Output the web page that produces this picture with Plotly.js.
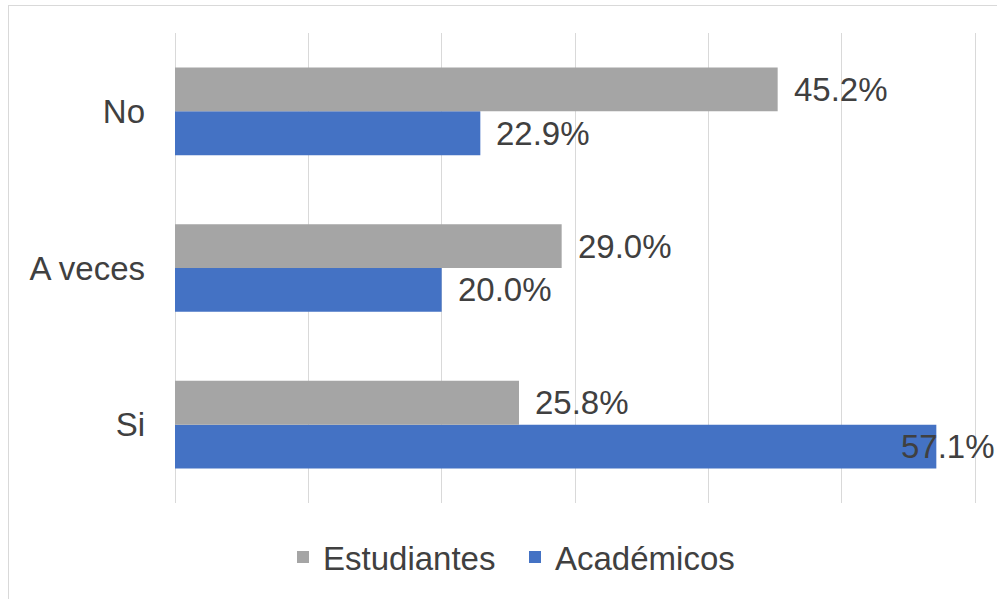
<!DOCTYPE html>
<html>
<head>
<meta charset="utf-8">
<script src="https://cdn.plot.ly/plotly-3.0.1.min.js"></script>
<style>
  html, body { margin: 0; padding: 0; background: #fff; }
  #chart { position: absolute; left: 0; top: 0; width: 997px; height: 599px; }
  #frame { position: absolute; left: 8px; top: 5px; width: 1000px; height: 620px;
           border-left: 1px solid #d9d9d9; border-top: 1px solid #d9d9d9; pointer-events: none; }
</style>
</head>
<body>
<div id="chart"></div>
<div id="frame"></div>
<script>
// Data
const categories = ['Si', 'A veces', 'No'];
const estudiantes = [25.8, 29.0, 45.2];
const academicos = [57.1, 20.0, 22.9];
const seriesNames = ['Estudiantes', 'Académicos'];
const gridTicks = [0, 10, 20, 30, 40, 50, 60];
const xMax = 60;
const xEnd = 60.3;

const W = 997, H = 599;
const mL = 175, mR = 18, mT = 33, mB = 96;
const plotW = W - mL - mR;
const fontFam = '"Liberation Sans", Arial, sans-serif';
const fs = 33;
const textColor = '#404040';
const bargap = 0.44;
const half = (1 - bargap) / 4;

const traces = [
  { type: 'bar', orientation: 'h', name: seriesNames[1], y: categories, x: academicos,
    marker: { color: '#4472c4' }, hoverinfo: 'x+y' },
  { type: 'bar', orientation: 'h', name: seriesNames[0], y: categories, x: estudiantes,
    marker: { color: '#a5a5a5' }, hoverinfo: 'x+y' }
];

function label(v, idx, dy) {
  const txt = v.toFixed(1) + '%';
  const estW = txt.length * 0.567 * fs;
  const endPx = v / xEnd * plotW;
  const base = { y: idx + dy, yref: 'y', text: txt, showarrow: false,
                 font: { family: fontFam, size: fs, color: textColor }, yanchor: 'middle' };
  if (endPx + 16 + estW > plotW + mR) {
    return Object.assign(base, { xref: 'paper', x: (plotW + mR) / plotW, xanchor: 'right' });
  }
  return Object.assign(base, { xref: 'x', x: v, xanchor: 'left', xshift: 14 });
}

const annotations = [];
categories.forEach((c, i) => {
  annotations.push(label(estudiantes[i], i, half));
  annotations.push(label(academicos[i], i, -half));
});

const layout = {
  width: W, height: H,
  margin: { l: mL, r: mR, t: mT, b: mB },
  paper_bgcolor: '#ffffff', plot_bgcolor: '#ffffff',
  barmode: 'group', bargap: bargap, bargroupgap: 0,
  font: { family: fontFam, size: fs, color: textColor },
  xaxis: { range: [0, xEnd], tickvals: gridTicks, showticklabels: false, ticks: '',
           showgrid: true, gridcolor: '#d9d9d9', gridwidth: 1, zeroline: true,
           zerolinecolor: '#d9d9d9', zerolinewidth: 1, showline: false, fixedrange: true },
  yaxis: { type: 'category', categoryorder: 'array', categoryarray: categories,
           ticks: '', showgrid: false, zeroline: false, showline: false,
           ticklabelstandoff: 29, tickfont: { family: fontFam, size: fs, color: textColor },
           fixedrange: true },
  showlegend: true,
  legend: { orientation: 'h', traceorder: 'reversed', x: (283 - mL) / plotW, xanchor: 'left',
            y: -0.115, yanchor: 'middle', font: { family: fontFam, size: fs, color: textColor },
            entrywidth: 187, entrywidthmode: 'pixels',
            bgcolor: 'rgba(0,0,0,0)' },
  annotations: annotations
};

Plotly.newPlot('chart', traces, layout, { displayModeBar: false, staticPlot: true });
</script>
</body>
</html>
